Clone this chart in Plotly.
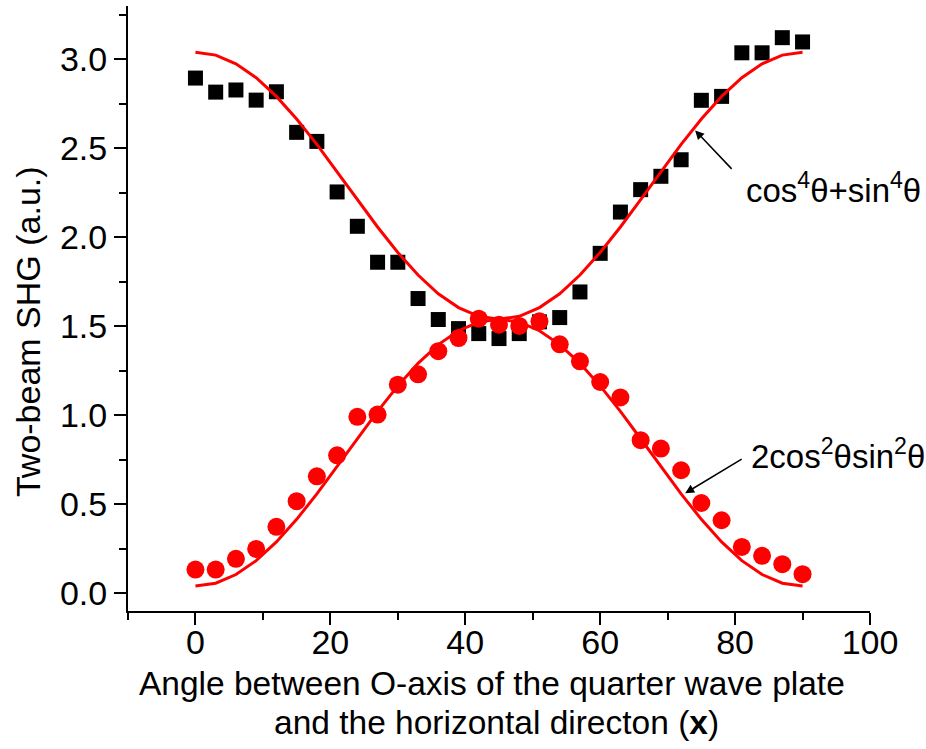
import plotly.graph_objects as go

# ---- data ----
angles = [0, 3, 6, 9, 12, 15, 18, 21, 24, 27, 30, 33, 36, 39, 42, 45,
          48, 51, 54, 57, 60, 63, 66, 69, 72, 75, 78, 81, 84, 87, 90]

shg_sum = [2.895, 2.816, 2.828, 2.771, 2.818, 2.590, 2.539, 2.255, 2.062, 1.860,
           1.860, 1.656, 1.538, 1.487, 1.459, 1.431, 1.459, 1.525, 1.549, 1.693,
           1.910, 2.142, 2.268, 2.343, 2.436, 2.770, 2.792, 3.037, 3.037, 3.122, 3.098]

shg_prod = [0.133, 0.133, 0.193, 0.249, 0.373, 0.517, 0.657, 0.775, 0.991, 1.004,
            1.172, 1.230, 1.360, 1.434, 1.543, 1.509, 1.502, 1.528, 1.399, 1.303,
            1.187, 1.100, 0.860, 0.813, 0.691, 0.507, 0.410, 0.260, 0.210, 0.163, 0.107]

fit_sum = [3.040, 3.024, 2.975, 2.897, 2.792, 2.665, 2.522, 2.368, 2.212, 2.058,
           1.915, 1.788, 1.683, 1.605, 1.556, 1.540, 1.556, 1.605, 1.683, 1.788,
           1.915, 2.058, 2.212, 2.368, 2.522, 2.665, 2.792, 2.897, 2.975, 3.024, 3.040]

fit_prod = [0.040, 0.056, 0.105, 0.183, 0.288, 0.415, 0.558, 0.712, 0.868, 1.022,
            1.165, 1.292, 1.397, 1.475, 1.524, 1.540, 1.524, 1.475, 1.397, 1.292,
            1.165, 1.022, 0.868, 0.712, 0.558, 0.415, 0.288, 0.183, 0.105, 0.056, 0.040]

FONT = "Liberation Sans, Arial, sans-serif"
FS = 34

fig = go.Figure()
fig.add_trace(go.Scatter(x=angles, y=shg_sum, mode="markers",
                         marker=dict(symbol="square", size=15, color="black"),
                         cliponaxis=False))
fig.add_trace(go.Scatter(x=angles, y=shg_prod, mode="markers",
                         marker=dict(symbol="circle", size=18, color="#ff0000"),
                         cliponaxis=False))
fig.add_trace(go.Scatter(x=angles, y=fit_sum, mode="lines",
                         line=dict(color="#ff0000", width=3)))
fig.add_trace(go.Scatter(x=angles, y=fit_prod, mode="lines",
                         line=dict(color="#ff0000", width=3)))

axis_common = dict(showline=True, linecolor="black", linewidth=2, showgrid=False,
                   zeroline=False, ticks="outside", ticklen=12, tickwidth=2,
                   tickcolor="black", tickfont=dict(family=FONT, size=FS, color="black"))

fig.update_xaxes(range=[-10, 100], tick0=0, dtick=20, ticklabelstandoff=-12,
                 minor=dict(ticks="outside", ticklen=7, tickwidth=2, tickcolor="black",
                            dtick=10, tick0=0, showgrid=False),
                 **axis_common)
fig.update_yaxes(range=[-0.1, 3.3], tick0=0, dtick=0.5, tickformat=".1f",
                 minor=dict(ticks="outside", ticklen=7, tickwidth=2, tickcolor="black",
                            dtick=0.25, tick0=0, showgrid=False),
                 **axis_common)

ann_font = dict(family=FONT, size=FS, color="black")
xt_font = dict(family=FONT, size=33.5, color="black")
lbl_font = dict(family=FONT, size=33, color="black")
annotations = [
    dict(text="Angle between O-axis of the quarter wave plate", xref="paper", yref="paper",
         x=0.49, y=-0.1193, xanchor="center", yanchor="middle", showarrow=False, font=xt_font),
    dict(text="and the horizontal directon (<b>x</b>)", xref="paper", yref="paper",
         x=0.497, y=-0.1837, xanchor="center", yanchor="middle", showarrow=False, font=xt_font),
    dict(text="Two-beam SHG (a.u.)", xref="paper", yref="paper", textangle=-90,
         x=-0.134, y=0.462, xanchor="center", yanchor="middle", showarrow=False, font=ann_font),
    dict(text="cos<sup>4</sup>θ+sin<sup>4</sup>θ", xref="x", yref="y",
         x=81.3, y=2.28, xanchor="left", yanchor="middle", showarrow=False, font=lbl_font),
    dict(text="2cos<sup>2</sup>θsin<sup>2</sup>θ", xref="x", yref="y",
         x=82.0, y=0.78, xanchor="left", yanchor="middle", showarrow=False, font=lbl_font),
    dict(text="", xref="x", yref="y", x=74.07, y=2.601, ax=38, ay=40,
         showarrow=True, arrowhead=2, arrowsize=1.2, arrowwidth=1.5, arrowcolor="black",
         standoff=0, startstandoff=0),
    dict(text="", xref="x", yref="y", x=72.6, y=0.562, ax=58, ay=-35,
         showarrow=True, arrowhead=2, arrowsize=1.2, arrowwidth=1.5, arrowcolor="black",
         standoff=0, startstandoff=0),
]

fig.update_layout(width=926, height=749, showlegend=False,
                  plot_bgcolor="white", paper_bgcolor="white",
                  margin=dict(l=127.5, r=56, t=5.6, b=138.2),
                  annotations=annotations,
                  font=dict(family=FONT, size=FS, color="black"))

fig.write_html("out.html")
